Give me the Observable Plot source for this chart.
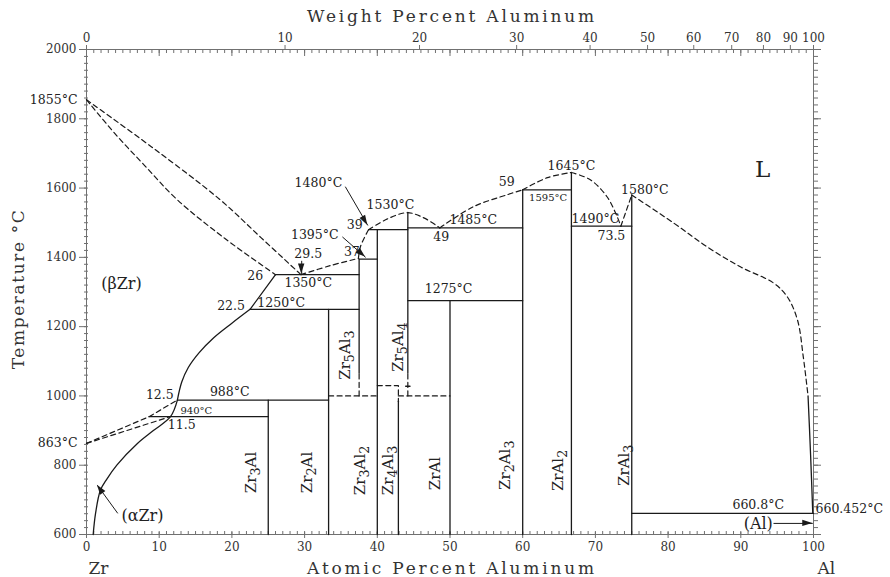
<!DOCTYPE html>
<html><head><meta charset="utf-8">
<script src="https://cdn.jsdelivr.net/npm/d3@7"></script>
<script src="https://cdn.jsdelivr.net/npm/@observablehq/plot@0.6"></script>
<style>body{margin:0;background:#fff}</style>
</head><body><div id="chart"></div>
<script>
// ---- axes ----
const atMajor = [0,10,20,30,40,50,60,70,80,90,100];
const atMinor = d3.range(0,101,1);
const tempMajor = [600,800,1000,1200,1400,1600,1800,2000];
const tempMinor = d3.range(600,2001,20);
const wtTicks = [0,10,20,30,40,50,60,70,80,90,100];
const M_AL = 26.98, M_ZR = 91.224;
const wtToAt = w => 100*(w/M_AL)/(w/M_AL + (100-w)/M_ZR);

// ---- phase boundaries: [at.% Al, T °C] ----
const solidStraight = [
  [[26,1350],[22.5,1250]],
  [[26,1350],[37.5,1350]],
  [[22.5,1250],[37.5,1250]],
  [[12.5,988],[33.3,988]],
  [[8.6,940],[25,940]],
  [[25,600],[25,988]],
  [[33.3,600],[33.3,1250]],
  [[37.5,1066],[37.5,1395]],
  [[37.5,1395],[40,1395]],
  [[40,600],[40,1480]],
  [[38.8,1480],[44.2,1480]],
  [[42.9,600],[42.9,985]],
  [[44.2,1066],[44.2,1530]],
  [[44.2,1485],[60,1485]],
  [[44.2,1275],[60,1275]],
  [[50,600],[50,1275]],
  [[60,600],[60,1595]],
  [[60,1595],[66.7,1595]],
  [[66.7,600],[66.7,1645]],
  [[66.7,1490],[75,1490]],
  [[75,600],[75,1580]],
  [[75,660.8],[100,660.8]],
  [[43.9,1028],[44.5,1028]]
];
const solidCurved = [
  [[22.5,1250],[20,1210],[17.5,1168],[15.5,1125],[14,1082],[13.1,1040],[12.5,988]],
  [[12.5,988],[11.55,940],[9.2,900],[6.97,862],[4.2,801],[2.8,760],[1.9,727],[1.24,660],[0.92,600]],
  [[99.25,1000],[99.6,830],[99.9,661]]
];
const dashedStraight = [
  [[0,863],[8.6,940],[12.5,988]],
  [[0,863],[11.5,940]],
  [[33.3,1000],[40,1000]],
  [[42.9,1000],[50,1000]],
  [[37.5,1000],[37.5,1066]],
  [[44.2,1000],[44.2,1066]],
  [[40,1030],[42.9,1030],[42.9,985]],
  [[73.5,1490],[75,1580]]
];
const dashedCurved = [
  [[0,1855],[9,1718],[18.4,1566],[24,1457],[29.5,1350]],
  [[0,1855],[4,1755],[8,1665],[12.5,1566],[19,1455],[26,1350]],
  [[29.5,1350],[33.5,1376],[37.4,1397]],
  [[37.4,1397],[37.7,1432],[38.8,1480]],
  [[38.8,1480],[41.4,1511],[44.1,1529],[46.4,1514],[48.6,1485]],
  [[48.6,1485],[53.2,1546],[57.9,1581],[60,1595]],
  [[60,1595],[63.4,1630],[66.7,1645]],
  [[66.7,1645],[69.3,1624],[71.6,1575],[73,1517],[73.5,1490]],
  [[75,1580],[80.7,1500],[85.4,1430],[90,1372],[94.5,1326],[96.4,1286],[97.8,1219],[98.6,1112],[99.25,1000]]
];

// ---- annotations ----
const labelsMid = [
  {s:"1350°C",x:30.5,T:1326},{s:"988°C",x:19.7,T:1011},{s:"11.5",x:13.1,T:915},
  {s:"1480°C",x:31.9,T:1615},{s:"1530°C",x:41.8,T:1552},{s:"39",x:36.9,T:1494},
  {s:"1395°C",x:31.4,T:1465},{s:"37",x:36.5,T:1416},{s:"29.5",x:30.5,T:1410},
  {s:"49",x:48.8,T:1459},{s:"1485°C",x:53.2,T:1508},{s:"1275°C",x:49.8,T:1309},
  {s:"59",x:57.8,T:1618},{s:"1645°C",x:66.7,T:1665},{s:"1490°C",x:70.0,T:1511},
  {s:"73.5",x:72.2,T:1462},{s:"1580°C",x:76.8,T:1595},{s:"660.8°C",x:92.4,T:684}
];
const labelsEnd = [{s:"26",x:24.3,T:1346},{s:"22.5",x:21.8,T:1260},{s:"12.5",x:12.0,T:1002}];
const labelsStart = [{s:"1250°C",x:23.5,T:1268}];
const labelsSmall = [{s:"940°C",x:15.1,T:956},{s:"1595°C",x:63.5,T:1572}];
const axisTemps = [{s:"1855°C",T:1855},{s:"863°C",T:863}];
const phaseLabels = [{s:"(βZr)",x:4.8,T:1323},{s:"(αZr)",x:7.7,T:655},{s:"(Al)",x:92.4,T:632}];
const compounds = [
  {s:"Zr₃Al",x:22.7,T:779},{s:"Zr₂Al",x:30.4,T:779},{s:"Zr₃Al₂",x:37.7,T:785},
  {s:"Zr₄Al₃",x:41.5,T:785},{s:"ZrAl",x:48.0,T:776},{s:"Zr₂Al₃",x:57.6,T:800},
  {s:"ZrAl₂",x:64.9,T:785},{s:"ZrAl₃",x:73.9,T:800},{s:"Zr₅Al₃",x:35.6,T:1118},
  {s:"Zr₅Al₄",x:42.9,T:1141}
];
const arrows = [
  {x1:35.6,T1:1604,x2:38.7,T2:1492},
  {x1:35.2,T1:1459,x2:38.4,T2:1400},
  {x1:29.6,T1:1390,x2:29.6,T2:1352},
  {x1:4.3,T1:661,x2:1.5,T2:742},
  {x1:94.5,T1:632,x2:99.9,T2:632}
];
const titles = {top:"Weight Percent Aluminum", bottom:"Atomic Percent Aluminum", left:"Temperature °C"};

const toRows = (groups, tag) => groups.flatMap((g,i) => g.map(([x,T]) => ({x, T, id: tag+i})));
const F = "DejaVu Serif";
const INK = "#1a1a1a", AX = "#707070", TXT = "#222";
const wtPos = wtTicks.map(wtToAt);
const wtMap = new Map(wtPos.map((p,i) => [p, String(wtTicks[i])]));

const chart = Plot.plot({
  width: 890, height: 577,
  marginLeft: 86, marginRight: 77, marginTop: 49, marginBottom: 43,
  x: {domain: [0,100]},
  y: {domain: [600,2000]},
  style: {fontFamily: F, fontSize: "12px", background: "#fff", color: "#333"},
  marks: [
    Plot.frame({stroke: AX}),
    // bottom axis
    Plot.axisX(atMinor, {anchor:"bottom", tickSize:3, dy:-3, tickFormat:()=>"", label:null, color:AX}),
    Plot.axisX(atMajor, {anchor:"bottom", tickSize:6, dy:-2, tickPadding:4, tickFormat:d=>String(d), label:null, color:AX, fill:"#333", fontSize:12}),
    // top axis
    Plot.axisX(atMinor, {anchor:"top", tickSize:3, dy:3, tickFormat:()=>"", label:null, color:AX}),
    Plot.axisX(atMajor, {anchor:"top", tickSize:6, dy:6, tickFormat:()=>"", label:null, color:AX}),
    Plot.axisX(wtPos, {anchor:"top", tickSize:5, tickPadding:3, tickFormat: d => wtMap.get(d), label:null, color:AX, fill:"#333", fontSize:12}),
    // left axis
    Plot.axisY(tempMinor, {anchor:"left", tickSize:4, dx:2, tickFormat:()=>"", label:null, color:AX}),
    Plot.axisY(tempMajor, {anchor:"left", tickSize:7, tickPadding:3, tickFormat:d=>String(d), label:null, color:AX, fill:"#333", fontSize:12}),
    // right axis
    Plot.axisY(tempMinor, {anchor:"right", tickSize:4, tickFormat:()=>"", label:null, color:AX}),
    Plot.axisY(tempMajor, {anchor:"right", tickSize:7, tickFormat:()=>"", label:null, color:AX}),
    // phase boundaries
    Plot.line(toRows(solidStraight,"s"), {x:"x", y:"T", z:"id", stroke:INK, strokeWidth:1.3}),
    Plot.line(toRows(solidCurved,"c"), {x:"x", y:"T", z:"id", stroke:INK, strokeWidth:1.3, curve:"catmull-rom"}),
    Plot.line(toRows(dashedStraight,"d"), {x:"x", y:"T", z:"id", stroke:INK, strokeWidth:1.2, strokeDasharray:"5,3.5"}),
    Plot.line(toRows(dashedCurved,"e"), {x:"x", y:"T", z:"id", stroke:INK, strokeWidth:1.2, strokeDasharray:"5,3.5", curve:"catmull-rom"}),
    // arrow shafts
    Plot.link(arrows, {x1:"x1", y1:"T1", x2:"x2", y2:"T2", stroke:INK, strokeWidth:1}),
    // labels
    Plot.text(labelsMid, {x:"x", y:"T", text:"s", fontSize:12.5, fill:TXT}),
    Plot.text(labelsEnd, {x:"x", y:"T", text:"s", fontSize:12.5, fill:TXT, textAnchor:"end"}),
    Plot.text(labelsStart, {x:"x", y:"T", text:"s", fontSize:12.5, fill:TXT, textAnchor:"start"}),
    Plot.text(labelsSmall, {x:"x", y:"T", text:"s", fontSize:10, fill:TXT}),
    Plot.text(axisTemps, {x:()=>0, y:"T", text:"s", fontSize:12.5, fill:TXT, textAnchor:"end", dx:-9}),
    Plot.text([{s:"660.452°C"}], {x:()=>100, y:()=>675, text:"s", fontSize:12.5, fill:TXT, textAnchor:"start", dx:2}),
    Plot.text(phaseLabels, {x:"x", y:"T", text:"s", fontSize:16, fill:TXT}),
    Plot.text(compounds, {x:"x", y:"T", text:"s", fontSize:15, fill:TXT, rotate:-90}),
    Plot.text([{s:"L"}], {x:()=>93, y:()=>1653, text:"s", fontSize:23, fill:TXT}),
    // axis titles
    Plot.text([titles.top], {frameAnchor:"top", lineAnchor:"middle", textAnchor:"middle", dy:-33, dx:2, text:d=>d, fontSize:17, fill:"#333"}),
    Plot.text([titles.bottom], {frameAnchor:"bottom", lineAnchor:"middle", textAnchor:"middle", dy:34, dx:2, text:d=>d, fontSize:17, fill:"#333"}),
    Plot.text([titles.left], {frameAnchor:"left", lineAnchor:"middle", textAnchor:"middle", dx:-68, dy:-3, rotate:-90, text:d=>d, fontSize:17, fill:"#333"}),
    Plot.text(["Zr"], {x:()=>0, frameAnchor:"bottom", lineAnchor:"middle", dy:34, dx:2, textAnchor:"start", text:d=>d, fontSize:17, fill:"#333"}),
    Plot.text(["Al"], {x:()=>100, frameAnchor:"bottom", lineAnchor:"middle", dy:34, dx:4, textAnchor:"start", text:d=>d, fontSize:17, fill:"#333"})
  ]
});
document.getElementById("chart").appendChild(chart);

const svg = d3.select(chart);
// letter-spaced axis titles
svg.selectAll("text").filter(function(){ return this.textContent === titles.top || this.textContent === titles.bottom; })
  .attr("letter-spacing", 2.8);
svg.selectAll("text").filter(function(){ return this.textContent === titles.left; })
  .attr("letter-spacing", 1.6);

// chemical formulas: subscript digits as shifted tspans
const subs = "₀₁₂₃₄₅₆₇₈₉";
svg.selectAll("text").each(function(){
  const t = this.textContent;
  if (![...t].some(c => subs.includes(c))) return;
  const el = d3.select(this);
  el.text(null);
  let shifted = false;
  for (const c of t) {
    const k = subs.indexOf(c);
    if (k >= 0) {
      el.append("tspan").attr("dy", shifted ? 0 : 4).attr("font-size", "0.85em").text(String(k));
      shifted = true;
    } else {
      el.append("tspan").attr("dy", shifted ? -4 : 0).text(c);
      shifted = false;
    }
  }
});

// filled arrowheads placed with the plot's own scales
const sx = chart.scale("x"), sy = chart.scale("y");
const heads = svg.append("g").attr("fill", INK);
for (const a of arrows) {
  const x1 = sx.apply(a.x1), y1 = sy.apply(a.T1), x2 = sx.apply(a.x2), y2 = sy.apply(a.T2);
  const ang = Math.atan2(y2 - y1, x2 - x1);
  const L = 10, W = 3.2;
  const bx = x2 - L*Math.cos(ang), by = y2 - L*Math.sin(ang);
  const px = -Math.sin(ang)*W, py = Math.cos(ang)*W;
  heads.append("path").attr("d", `M${x2},${y2}L${bx+px},${by+py}L${bx-px},${by-py}Z`);
}
</script></body></html>
